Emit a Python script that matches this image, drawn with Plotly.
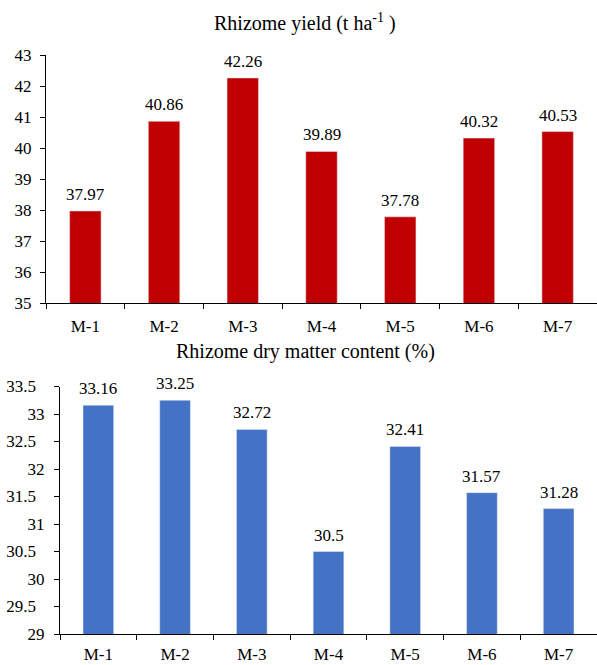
import plotly.graph_objects as go

# Data
categories = ["M-1", "M-2", "M-3", "M-4", "M-5", "M-6", "M-7"]
rhizome_yield = [37.97, 40.86, 42.26, 39.89, 37.78, 40.32, 40.53]
dry_matter = [33.16, 33.25, 32.72, 30.50, 32.41, 31.57, 31.28]

yield_ticks = [35, 36, 37, 38, 39, 40, 41, 42, 43]
dm_ticks = [29, 29.5, 30, 30.5, 31, 31.5, 32, 32.5, 33, 33.5]

W, H = 597, 665
FONT = "Liberation Serif"
RED = "#C00000"
BLUE = "#4472C4"
TICK_SIZE = 17
LABEL_SIZE = 17
TITLE_SIZE = 20


def px_x(p):
    return p / W


def px_y(p):
    return 1 - p / H


def dm_label(v):
    # half-step labels sit a little to the left of the whole-number ones
    s = f"{v:g}"
    return s + "\u00a0\u00a0" if "." in s else s


fig = go.Figure()

fig.add_trace(go.Bar(x=categories, y=rhizome_yield, marker_color=RED,
                     xaxis="x", yaxis="y", width=0.4, showlegend=False))
fig.add_trace(go.Bar(x=categories, y=dry_matter, marker_color=BLUE,
                     xaxis="x2", yaxis="y2", width=0.4, showlegend=False))

annotations = []
for c, v in zip(categories, rhizome_yield):
    annotations.append(dict(x=c, y=v, xref="x", yref="y", text=f"{v:.2f}",
                            showarrow=False, yanchor="bottom", yshift=5,
                            font=dict(family=FONT, size=LABEL_SIZE, color="#000")))
for c, v in zip(categories, dry_matter):
    annotations.append(dict(x=c, y=v, xref="x2", yref="y2", text=f"{v:g}",
                            showarrow=False, yanchor="bottom", yshift=5,
                            font=dict(family=FONT, size=LABEL_SIZE, color="#000")))

annotations.append(dict(x=px_x(305), y=px_y(23), xref="paper", yref="paper",
                        text="Rhizome yield (t ha<sup>-1</sup> )", showarrow=False,
                        xanchor="center", yanchor="middle",
                        font=dict(family=FONT, size=TITLE_SIZE, color="#000")))
annotations.append(dict(x=px_x(305), y=px_y(352), xref="paper", yref="paper",
                        text="Rhizome dry matter content (%)", showarrow=False,
                        xanchor="center", yanchor="middle",
                        font=dict(family=FONT, size=TITLE_SIZE, color="#000")))

axis_common = dict(showgrid=False, zeroline=False, showline=True,
                   automargin=False,
                   linecolor="#000", linewidth=1.2, ticks="outside",
                   ticklen=5, tickwidth=1, tickcolor="#000",
                   tickfont=dict(family=FONT, size=TICK_SIZE, color="#000"))

fig.update_layout(
    width=W, height=H,
    margin=dict(l=0, r=0, t=0, b=0, pad=0),
    paper_bgcolor="white", plot_bgcolor="white",
    font=dict(family=FONT, color="#000"),
    bargap=0.6,
    xaxis=dict(domain=[px_x(46), 1], anchor="y", tickson="boundaries",
               ticklabelstandoff=7, **axis_common),
    yaxis=dict(domain=[px_y(303), px_y(55)], anchor="x", range=[35, 43],
               tickvals=yield_ticks, ticktext=[f"{t:g}" for t in yield_ticks],
               ticklabelstandoff=5, **axis_common),
    xaxis2=dict(domain=[px_x(60), 1], anchor="y2", tickson="boundaries",
                ticklabelstandoff=4, **axis_common),
    yaxis2=dict(domain=[px_y(634), px_y(386.5)], anchor="x2", range=[29, 33.5],
                tickvals=dm_ticks, ticktext=[dm_label(t) for t in dm_ticks],
                ticklabelstandoff=6, **axis_common),
    annotations=annotations,
)

fig.write_html("out.html")
